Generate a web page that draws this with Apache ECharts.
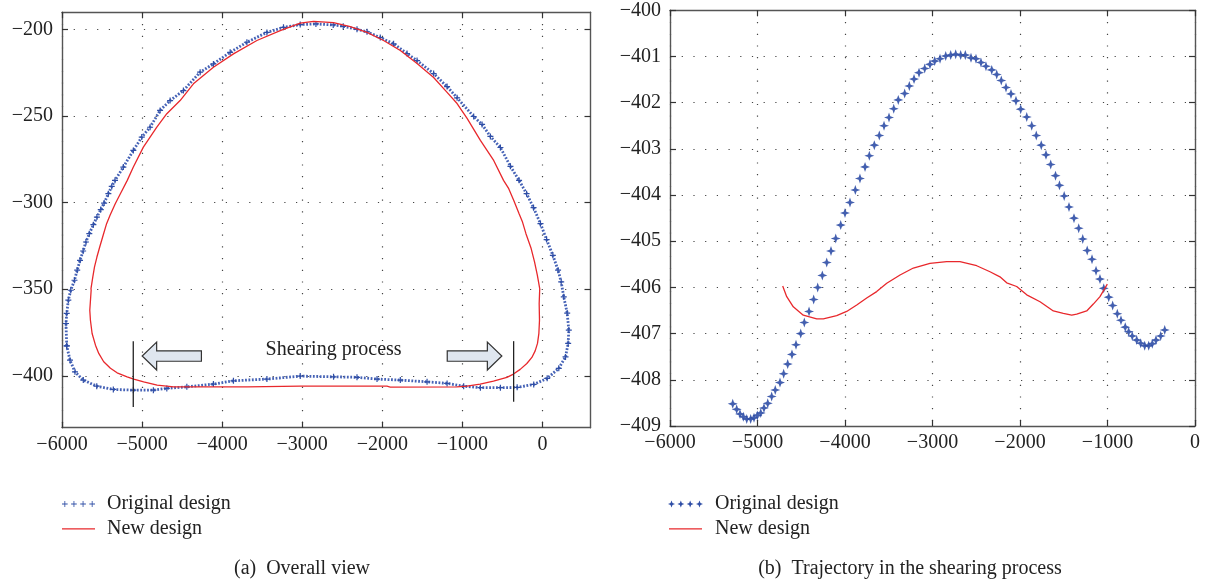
<!DOCTYPE html>
<html>
<head>
<meta charset="utf-8">
<script src="https://cdn.jsdelivr.net/npm/echarts@6/dist/echarts.min.js"></script>
<style>
html,body{margin:0;padding:0;background:#fff;}
#chart{width:1207px;height:584px;}
</style>
</head>
<body>
<div id="chart"></div>
<script>
// ---------- DATA ----------
// (a) Overall view
const leftXTicks = [-6000, -5000, -4000, -3000, -2000, -1000, 0];
const leftYTicks = [-400, -350, -300, -250, -200];
const leftOriginal = [
[-5941,-382.7],[-5950,-369.8],[-5941,-364.0],[-5921,-356.3],[-5891,-350.6],[-5844,-344.8],[-5810,-339.0],
[-5775,-333.3],[-5736,-327.9],[-5701,-322.7],[-5659,-317.9],[-5608,-312.7],[-5564,-308.3],[-5516,-304.0],
[-5474,-300.2],[-5421,-294.8],[-5379,-290.6],[-5338,-287.1],[-5234,-279.4],[-5109,-269.8],[-5004,-262.1],
[-4900,-256.4],[-4775,-246.7],[-4650,-241.0],[-4484,-235.2],[-4275,-224.6],[-4109,-219.8],[-3900,-213.1],
[-3691,-207.3],[-3441,-201.6],[-3234,-198.7],[-3025,-197.1],[-2829,-196.7],[-2613,-197.3],[-2488,-198.1],
[-2316,-199.8],[-2191,-201.3],[-2025,-204.6],[-1859,-208.2],[-1691,-213.8],[-1566,-217.9],[-1359,-225.4],
[-1191,-232.9],[-1066,-239.4],[-859,-250.2],[-754,-254.8],[-650,-261.7],[-525,-268.1],[-400,-279.0],
[-292,-287.1],[-198,-294.8],[-111,-302.9],[-25,-312.1],[52,-321.3],[130,-330.4],[195,-339.0],[234,-345.8],
[266,-354.4],[309,-363.8],[329,-373.6],[321,-381.3],[288,-389.1],[204,-395.7],[59,-401.5],[-109,-405.0],
[-316,-406.7],[-525,-406.9],[-775,-406.9],[-984,-406.0],[-1191,-404.4],[-1441,-403.5],[-1775,-402.5],
[-2066,-401.9],[-2316,-400.9],[-2609,-400.6],[-3025,-400.2],[-3441,-401.9],[-3859,-402.9],[-4109,-404.8],
[-4441,-406.4],[-4691,-407.3],[-4859,-408.3],[-5109,-408.3],[-5359,-407.9],[-5566,-406.0],[-5734,-402.5],
[-5838,-397.7],[-5900,-391.0],[-5941,-382.7]
];
const leftNew = [
[-5638,-349.6],[-5615,-342.9],[-5594,-337.1],[-5564,-331.4],[-5529,-325.6],[-5486,-318.8],[-5443,-312.1],
[-5400,-307.3],[-5335,-300.6],[-5271,-294.8],[-5185,-287.1],[-5109,-279.4],[-4984,-267.9],[-4816,-256.4],
[-4691,-248.6],[-4525,-241.0],[-4359,-231.3],[-4109,-221.7],[-3859,-214.0],[-3566,-206.3],[-3275,-200.6],
[-3025,-196.3],[-2859,-195.2],[-2609,-196.0],[-2400,-198.3],[-2191,-201.6],[-1984,-206.3],[-1775,-212.1],
[-1566,-219.6],[-1359,-227.7],[-1191,-236.3],[-1066,-242.7],[-941,-251.3],[-775,-264.0],[-609,-275.6],
[-486,-287.1],[-421,-291.9],[-358,-298.7],[-293,-306.3],[-249,-311.2],[-206,-317.9],[-141,-326.5],
[-99,-334.2],[-64,-341.9],[-34,-349.6],[-41,-358.2],[-37,-367.9],[-45,-375.6],[-62,-381.3],[-91,-385.6],
[-132,-389.4],[-195,-392.9],[-278,-396.3],[-362,-399.0],[-444,-400.9],[-612,-403.1],[-778,-404.8],
[-943,-406.0],[-1068,-406.4],[-1901,-406.5],[-1942,-406.0],[-3024,-406.0],[-3689,-406.4],[-4272,-406.4],
[-4605,-406.4],[-4812,-405.4],[-4980,-403.5],[-5104,-401.9],[-5187,-400.6],[-5312,-398.3],[-5395,-395.7],
[-5479,-391.9],[-5541,-387.1],[-5582,-382.3],[-5624,-375.6],[-5645,-367.9],[-5653,-362.1],[-5636,-350.6],
[-5638,-349.6]
];
// shearing annotations: vertical markers [x, yFrom, yTo], arrows [tailX, tipX, y], label
const shearMarks = [[-5110,-380,-418],[-360,-380,-415]];
const shearArrows = [[-4259,-4999,-388.6],[-1189,-507,-388.6]];
const shearLabel = [[-3458,-385.2,'Shearing process']];

// (b) Trajectory in the shearing process
const rightXTicks = [-6000, -5000, -4000, -3000, -2000, -1000, 0];
const rightYTicks = [-409, -408, -407, -406, -405, -404, -403, -402, -401, -400];
const rightOriginal = [
[-5283,-408.52],[-5238,-408.64],[-5200,-408.74],[-5162,-408.80],[-5123,-408.85],[-5078,-408.85],[-5040,-408.82],
[-5002,-408.77],[-4963,-408.72],[-4926,-408.61],[-4883,-408.51],[-4838,-408.36],[-4797,-408.22],[-4743,-408.06],
[-4701,-407.87],[-4655,-407.66],[-4606,-407.45],[-4560,-407.24],[-4506,-407.00],[-4465,-406.76],[-4411,-406.52],
[-4358,-406.26],[-4312,-406.00],[-4259,-405.74],[-4209,-405.46],[-4160,-405.21],[-4106,-404.94],[-4049,-404.65],
[-4000,-404.39],[-3943,-404.16],[-3882,-403.89],[-3829,-403.64],[-3771,-403.39],[-3722,-403.15],[-3665,-402.92],
[-3608,-402.71],[-3554,-402.50],[-3497,-402.32],[-3443,-402.13],[-3391,-401.94],[-3318,-401.80],[-3265,-401.64],
[-3211,-401.49],[-3154,-401.35],[-3089,-401.26],[-3029,-401.17],[-2975,-401.10],[-2914,-401.05],[-2849,-400.99],
[-2792,-400.97],[-2735,-400.95],[-2678,-400.97],[-2625,-400.97],[-2560,-401.03],[-2503,-401.05],[-2446,-401.13],
[-2389,-401.21],[-2323,-401.29],[-2266,-401.39],[-2214,-401.52],[-2160,-401.67],[-2103,-401.81],[-2046,-401.96],
[-1992,-402.14],[-1923,-402.31],[-1866,-402.50],[-1814,-402.71],[-1757,-402.92],[-1703,-403.13],[-1649,-403.34],
[-1594,-403.58],[-1549,-403.79],[-1495,-404.02],[-1440,-404.26],[-1383,-404.50],[-1329,-404.72],[-1283,-404.95],
[-1232,-405.20],[-1177,-405.39],[-1131,-405.64],[-1086,-405.82],[-1043,-406.02],[-986,-406.21],[-941,-406.39],
[-888,-406.57],[-846,-406.71],[-797,-406.86],[-758,-406.96],[-717,-407.05],[-666,-407.14],[-621,-407.21],
[-575,-407.26],[-529,-407.26],[-488,-407.22],[-446,-407.14],[-392,-407.05],[-346,-406.92]
];
const rightNew = [
[-4712,-405.97],[-4666,-406.20],[-4591,-406.42],[-4477,-406.60],[-4323,-406.68],[-4248,-406.68],[-4095,-406.61],
[-3981,-406.52],[-3866,-406.38],[-3752,-406.23],[-3638,-406.09],[-3523,-405.91],[-3371,-405.73],[-3219,-405.58],
[-3029,-405.48],[-2838,-405.44],[-2686,-405.44],[-2495,-405.53],[-2343,-405.66],[-2229,-405.77],[-2152,-405.90],
[-2038,-405.98],[-1923,-406.16],[-1771,-406.31],[-1619,-406.51],[-1505,-406.56],[-1409,-406.60],[-1352,-406.58],
[-1238,-406.51],[-1162,-406.36],[-1086,-406.20],[-1002,-405.93]
];
const seriesNames = ['Original design', 'New design'];
const captions = ['(a)  Overall view', '(b)  Trajectory in the shearing process'];

// ---------- STYLE ----------
const FONT = "'Liberation Serif', 'Times New Roman', serif";
const BLUE = '#2f4ea6';
const RED = '#e8282c';
const AXIS = '#555';
const minus = v => (v < 0 ? '\u2212' + Math.abs(v) : String(v));
const plusSym = 'path://M-1,-0.2H1V0.2H-1Z M-0.2,-1H0.2V1H-0.2Z';
const starSym = 'path://M0,-5L1.3,-1.3L5,0L1.3,1.3L0,5L-1.3,1.3L-5,0L-1.3,-1.3Z';
const plusIcon = 'path://M0,2.6H5.6V3.4H0Z M2.4,0H3.2V6H2.4Z M9,2.6H14.6V3.4H9Z M11.4,0H12.2V6H11.4Z M18,2.6H23.6V3.4H18Z M20.4,0H21.2V6H20.4Z M27,2.6H32.6V3.4H27Z M29.4,0H30.2V6H29.4Z';
const starIcon = 'path://M3.5,0L4.5,2.5L7,3.5L4.5,4.5L3.5,7L2.5,4.5L0,3.5L2.5,2.5Z M12.8,0L13.8,2.5L16.3,3.5L13.8,4.5L12.8,7L11.8,4.5L9.3,3.5L11.8,2.5Z M22.1,0L23.1,2.5L25.6,3.5L23.1,4.5L22.1,7L21.1,4.5L18.6,3.5L21.1,2.5Z M31.4,0L32.4,2.5L34.9,3.5L32.4,4.5L31.4,7L30.4,4.5L27.9,3.5L30.4,2.5Z';
const lineIcon = 'path://M0,0L0.01,0L0,0.01Z M0,3.2H33V4.6H0Z M33,8L32.99,8L33,7.99Z';

function mkAxis(kind, grid, pos, min, max, ticks, showLabel, showSplit) {
  return {
    type: 'value', gridIndex: grid, position: pos, min: min, max: max,
    axisLine: { show: true, onZero: false, lineStyle: { color: AXIS, width: 1.4 } },
    axisTick: { show: true, inside: true, length: 6, customValues: ticks, lineStyle: { color: '#333', width: 1.2 } },
    axisLabel: { show: showLabel, customValues: ticks, formatter: minus, fontFamily: FONT, fontSize: 20,
                 color: '#222', margin: kind === 'x' ? 7 : 9 },
    splitLine: { show: showSplit, lineStyle: { color: '#444', width: 1.2, type: [1.2, 10.5] } }
  };
}

const chart = echarts.init(document.getElementById('chart'), null, { renderer: 'canvas' });
const labelStyle = { fontFamily: FONT, fontSize: 20, color: '#222', padding: [0, 0, 0, 7] };

chart.setOption({
  animation: false,
  backgroundColor: '#fff',
  grid: [
    { left: 62, top: 12.3, width: 528.5, height: 415.4, containLabel: false },
    { left: 670, top: 10.3, width: 525, height: 415.7, containLabel: false }
  ],
  xAxis: [
    mkAxis('x', 0, 'bottom', -6000, 600, leftXTicks, true, true),
    mkAxis('x', 0, 'top', -6000, 600, leftXTicks, false, false),
    mkAxis('x', 1, 'bottom', -6000, 0, rightXTicks, true, true),
    mkAxis('x', 1, 'top', -6000, 0, rightXTicks, false, false)
  ],
  yAxis: [
    mkAxis('y', 0, 'left', -430, -190, leftYTicks, true, true),
    mkAxis('y', 0, 'right', -430, -190, leftYTicks, false, false),
    mkAxis('y', 1, 'left', -409, -400, rightYTicks, true, true),
    mkAxis('y', 1, 'right', -409, -400, rightYTicks, false, false)
  ],
  legend: [
    { orient: 'vertical', left: 62, top: 494, padding: 0, itemWidth: 33, itemHeight: 8, itemGap: 5,
      textStyle: labelStyle, selectedMode: false,
      data: [{ name: seriesNames[0], icon: plusIcon }, { name: seriesNames[1], icon: lineIcon }] },
    { orient: 'vertical', left: 668, top: 494, padding: 0, itemWidth: 35, itemHeight: 8, itemGap: 5,
      textStyle: labelStyle, selectedMode: false,
      data: [{ name: seriesNames[0], icon: starIcon }, { name: seriesNames[1], icon: lineIcon }] }
  ],
  graphic: [
    { type: 'text', x: 302, y: 569, style: { text: captions[0], font: '20px ' + FONT, fill: '#222', textAlign: 'center', textVerticalAlign: 'middle' } },
    { type: 'text', x: 910, y: 569, style: { text: captions[1], font: '20px ' + FONT, fill: '#222', textAlign: 'center', textVerticalAlign: 'middle' } }
  ],
  series: [
    { name: seriesNames[0], type: 'line', xAxisIndex: 0, yAxisIndex: 0, data: leftOriginal,
      symbol: plusSym, symbolSize: 6, showAllSymbol: true, color: BLUE,
      itemStyle: { color: BLUE }, lineStyle: { color: '#4562b6', width: 2.8, type: [1.8, 1.6] }, z: 2 },
    { name: seriesNames[1], type: 'line', xAxisIndex: 0, yAxisIndex: 0, data: leftNew,
      symbol: 'none', color: RED, lineStyle: { color: RED, width: 1.3 }, z: 3 },
    { type: 'custom', xAxisIndex: 0, yAxisIndex: 0, data: shearMarks, encode: { x: 0, y: [1, 2] }, z: 4,
      renderItem: (p, api) => {
        const a = api.coord([api.value(0), api.value(1)]);
        const b = api.coord([api.value(0), api.value(2)]);
        return { type: 'line', shape: { x1: a[0], y1: a[1], x2: b[0], y2: b[1] }, style: { stroke: '#222', lineWidth: 1.3 } };
      } },
    { type: 'custom', xAxisIndex: 0, yAxisIndex: 0, data: shearArrows, encode: { x: [0, 1], y: 2 }, z: 4,
      renderItem: (p, api) => {
        const t = api.coord([api.value(0), api.value(2)]);
        const q = api.coord([api.value(1), api.value(2)]);
        const d = q[0] > t[0] ? 1 : -1, hl = 14.5, hh = 14, bh = 5.2, bx = q[0] - d * hl;
        return { type: 'polygon', shape: { points: [[t[0], t[1] - bh], [bx, t[1] - bh], [bx, t[1] - hh], [q[0], t[1]],
                 [bx, t[1] + hh], [bx, t[1] + bh], [t[0], t[1] + bh]] },
                 style: { fill: '#dfe6ef', stroke: '#333', lineWidth: 1.2 } };
      } },
    { type: 'custom', xAxisIndex: 0, yAxisIndex: 0, data: shearLabel, encode: { x: 0, y: 1 }, z: 4,
      renderItem: (p, api) => {
        const c = api.coord([api.value(0), api.value(1)]);
        return { type: 'text', x: c[0], y: c[1], style: { text: shearLabel[p.dataIndex][2], font: '20px ' + FONT,
                 fill: '#222', textAlign: 'left', textVerticalAlign: 'middle' } };
      } },
    { name: seriesNames[0], type: 'scatter', xAxisIndex: 2, yAxisIndex: 2, data: rightOriginal,
      symbol: starSym, symbolSize: 10, color: BLUE, itemStyle: { color: BLUE, opacity: 0.9 }, z: 2 },
    { name: seriesNames[1], type: 'line', xAxisIndex: 2, yAxisIndex: 2, data: rightNew,
      symbol: 'none', color: RED, lineStyle: { color: RED, width: 1.3 }, z: 3 }
  ]
});
</script>
</body>
</html>
